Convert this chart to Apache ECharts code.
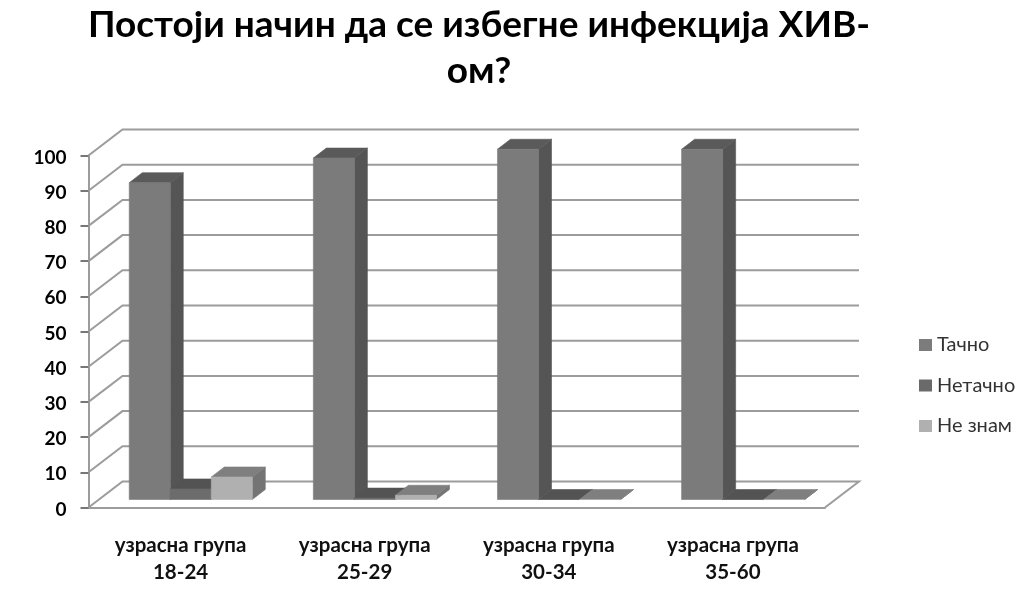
<!DOCTYPE html>
<html>
<head>
<meta charset="utf-8">
<script src="https://cdn.jsdelivr.net/npm/echarts@6/dist/echarts.min.js"></script>
<style>html,body{margin:0;padding:0;background:#fff}#c{width:1024px;height:600px;filter:blur(0.5px)}</style>
</head>
<body>
<div id="c"></div>
<script>
const titleText = 'Постоји начин да се избегне инфекција ХИВ-\nом?';
const categories = ['узрасна група\n18-24', 'узрасна група\n25-29', 'узрасна група\n30-34', 'узрасна група\n35-60'];
const seriesNames = ['Тачно', 'Нетачно', 'Не знам'];
const tacno = [90, 97, 99.5, 99.5];
const netacno = [3, 0.4, 0, 0];
const neZnam = [6.4, 1.2, 0, 0];
const gridTicks = [0, 10, 20, 30, 40, 50, 60, 70, 80, 90, 100];

const FONT = 'Lato, "Noto Sans", sans-serif';
const palette = [
  {front: '#7b7b7b', top: '#5a5a5a', side: '#555555', legend: '#7c7c7c'},
  {front: '#6c6c6c', top: '#535353', side: '#525252', legend: '#6a6a6a'},
  {front: '#b0b0b0', top: '#7f7f7f', side: '#747474', legend: '#b0b0b0'}
];

function poly(points, fill) {
  return {type: 'polygon', shape: {points: points}, style: {fill: fill, stroke: fill, lineWidth: 0.6}};
}
function barRenderer(order) {
  return function (params, api) {
    const cat = api.value(0), val = api.value(1);
    const band = api.size([1, 0])[0];
    const c0 = api.coord([cat, 0]), c1 = api.coord([cat, val]);
    const w = band * 41 / 184;
    const x0 = c0[0] - band * 51.3 / 184 + order * w;
    const x1 = x0 + w;
    const yb = c0[1] - 8, yt = c1[1] - 8;
    const dx = 13, dy = 10, p = palette[order];
    return {type: 'group', children: [
      poly([[x1, yb], [x1 + dx, yb - dy], [x1 + dx, yt - dy], [x1, yt]], p.side),
      poly([[x0, yt], [x1, yt], [x1 + dx, yt - dy], [x0 + dx, yt - dy]], p.top),
      poly([[x0, yb], [x1, yb], [x1, yt], [x0, yt]], p.front)
    ]};
  };
}
function wallRenderer(params, api) {
  const v = api.value(1);
  const cs = params.coordSys;
  const y = api.coord([0, v])[1];
  const left = cs.x, right = cs.x + cs.width;
  const dx = 34, dy = 26;
  const line = {stroke: '#9c9c9c', lineWidth: 2, fill: null};
  const pts = [[left, y], [left + dx, y - dy], [right + dx, y - dy]];
  if (v === 0) pts.push([right, y]);
  return {type: 'polyline', shape: {points: pts}, style: line};
}
const barSeries = [tacno, netacno, neZnam].map((vals, i) => ({
  type: 'custom',
  name: seriesNames[i],
  renderItem: barRenderer(i),
  data: vals.map((v, k) => [k, v]),
  encode: {x: 0, y: 1},
  itemStyle: {color: palette[i].legend},
  clip: false,
  silent: true,
  z: 5 + i
}));

const chart = echarts.init(document.getElementById('c'), null, {renderer: 'canvas'});
chart.setOption({
  animation: false,
  backgroundColor: '#ffffff',
  title: {
    text: titleText,
    left: 474,
    top: -3,
    textAlign: 'center',
    textStyle: {fontFamily: FONT, fontWeight: 'bold', fontSize: 37, lineHeight: 46, color: '#000'}
  },
  legend: {
    data: seriesNames,
    orient: 'vertical',
    left: 919,
    top: 335,
    padding: 0,
    itemWidth: 13,
    itemHeight: 12,
    itemGap: 20.5,
    icon: 'rect',
    textStyle: {fontFamily: FONT, fontSize: 20, color: '#333', height: 20, lineHeight: 20}
  },
  grid: {left: 88.5, right: 199, top: 155.5, bottom: 92.5, containLabel: false},
  xAxis: {
    type: 'category',
    data: categories,
    boundaryGap: true,
    axisLine: {show: true, lineStyle: {color: '#9c9c9c', width: 2}},
    axisTick: {show: false},
    axisLabel: {
      margin: 24, interval: 0, color: '#111',
      fontFamily: FONT, fontWeight: 'bold', fontSize: 20.5, lineHeight: 27
    },
    splitLine: {show: false}
  },
  yAxis: {
    type: 'value',
    min: 0, max: 100, interval: 10,
    axisLine: {show: true, lineStyle: {color: '#9c9c9c', width: 2}},
    axisTick: {show: true, length: 8, lineStyle: {color: '#777', width: 2}},
    axisLabel: {margin: 22, color: '#000', fontFamily: FONT, fontWeight: 'bold', fontSize: 19, verticalAlign: 'top', lineHeight: 4, height: 4},
    splitLine: {show: false}
  },
  series: [{
    type: 'custom',
    name: 'grid',
    renderItem: wallRenderer,
    data: gridTicks.map(v => [0, v]),
    encode: {x: 0, y: 1},
    clip: false,
    silent: true,
    z: 1
  }].concat(barSeries)
});
</script>
</body>
</html>
